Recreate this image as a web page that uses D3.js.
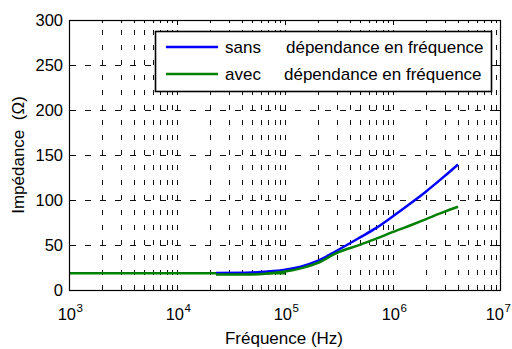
<!DOCTYPE html>
<html>
<head>
<meta charset="utf-8">
<script src="https://cdn.jsdelivr.net/npm/d3@7"></script>
<style>
  html, body { margin: 0; padding: 0; background: #fff; }
  svg { display: block; }
  text { font-family: "Liberation Sans", Arial, sans-serif; fill: #000; }
</style>
</head>
<body>
<svg id="chart" width="512" height="349"></svg>
<script>
// ---- data ----
const freqFlat  = [1e3, 1e4, 2.3e4, 5e4, 1e5];
const valueFlat = [18.7, 18.7, 18.7, 18.7, 18.7];

const freqSans  = [2.3e4, 5e4, 7e4, 1e5, 1.4e5, 2e5, 3e5, 5e5, 7e5, 1e6, 1.5e6, 2e6, 3e6, 4e6];
const valueSans = [19, 19.5, 20.5, 22.5, 26, 32.3, 43.5, 58.7, 69, 82, 97.5, 109, 126.5, 139.5];

const freqAvec  = [2.3e4, 5e4, 7e4, 1e5, 1.4e5, 2e5, 3e5, 5e5, 7e5, 1e6, 1.5e6, 2e6, 3e6, 4e6];
const valueAvec = [17.3, 17.3, 18.5, 20.5, 24, 30, 41, 50.5, 57, 64.5, 72.5, 78.5, 87, 92.5];

const yTicks = [0, 50, 100, 150, 200, 250, 300];
const xExponents = [3, 4, 5, 6, 7];
const legendLabels = ["sans", "avec"];
const legendText = "dépendance en fréquence";
const xTitle = "Fréquence (Hz)";
const yTitle = "Impédance  (Ω)";

// ---- layout ----
const L = 69, R = 501, T = 20, B = 290;
const svg = d3.select("#chart");
const x = d3.scaleLog().domain([1e3, 1e7]).range([L, R]);
const y = d3.scaleLinear().domain([0, 300]).range([B, T]);

// grid: vertical (majors + minors)
const vTicks = [];
for (let k = 3; k < 7; k++) {
  for (let m = 1; m <= 9; m++) {
    const v = m * Math.pow(10, k);
    if (v > 1e3) vTicks.push(v);
  }
}
const grid = svg.append("g");
grid.selectAll("line.v").data(vTicks).enter().append("line")
  .attr("x1", d => Math.round(x(d)) + 0.5).attr("x2", d => Math.round(x(d)) + 0.5)
  .attr("y1", T).attr("y2", B)
  .attr("stroke", "#111").attr("stroke-width", 1)
  .attr("stroke-dasharray", "5,10").attr("stroke-dashoffset", 5);
grid.selectAll("line.h").data(yTicks.filter(d => d > 0 && d < 300)).enter().append("line")
  .attr("x1", L).attr("x2", R)
  .attr("y1", d => Math.round(y(d)) + 0.5).attr("y2", d => Math.round(y(d)) + 0.5)
  .attr("stroke", "#111").attr("stroke-width", 1)
  .attr("stroke-dasharray", "6,9").attr("stroke-dashoffset", -1);

// ticks inside
const tk = svg.append("g").attr("stroke", "#000").attr("stroke-width", 1);
yTicks.forEach(d => {
  const yy = Math.round(y(d)) + 0.5;
  tk.append("line").attr("x1", L).attr("x2", L + 5).attr("y1", yy).attr("y2", yy);
  tk.append("line").attr("x1", R - 5).attr("x2", R).attr("y1", yy).attr("y2", yy);
});
vTicks.forEach(d => {
  const xx = Math.round(x(d)) + 0.5;
  const len = (Math.abs(Math.log10(d) % 1) < 1e-9) ? 5 : 3;
  tk.append("line").attr("x1", xx).attr("x2", xx).attr("y1", B).attr("y2", B - len);
  tk.append("line").attr("x1", xx).attr("x2", xx).attr("y1", T).attr("y2", T + len);
});

// curves
const line = d3.line().x(d => x(d[0])).y(d => y(d[1])).curve(d3.curveMonotoneX);
const zip = (a, b) => a.map((v, i) => [v, b[i]]);
svg.append("path").datum(zip(freqFlat, valueFlat)).attr("d", line)
  .attr("fill", "none").attr("stroke", "#008000").attr("stroke-width", 2.5);
svg.append("path").datum(zip(freqSans, valueSans)).attr("d", line)
  .attr("fill", "none").attr("stroke", "#0000ff").attr("stroke-width", 2.5);
svg.append("path").datum(zip(freqAvec, valueAvec)).attr("d", line)
  .attr("fill", "none").attr("stroke", "#008000").attr("stroke-width", 2.5);

// box
svg.append("rect").attr("x", L + 0.5).attr("y", T + 0.5)
  .attr("width", R - L - 1).attr("height", B - T)
  .attr("fill", "none").attr("stroke", "#000").attr("stroke-width", 1.2);

// y tick labels
svg.append("g").selectAll("text").data(yTicks).enter().append("text")
  .attr("x", 63).attr("y", d => y(d) + 6)
  .attr("text-anchor", "end").attr("font-size", 16.5).text(d => d);

// x tick labels 10^k (last one nudged to stay inside the page)
const xl = svg.append("g");
xExponents.forEach((e, i) => {
  const xx = x(Math.pow(10, e)) + (i === xExponents.length - 1 ? -4 : 0);
  xl.append("text").attr("x", xx + 7).attr("y", 320)
    .attr("text-anchor", "end").attr("font-size", 16.5).text("10");
  xl.append("text").attr("x", xx + 7.5).attr("y", 312)
    .attr("font-size", 11.5).text(e);
});

// axis titles
svg.append("text").attr("x", 284).attr("y", 344).attr("text-anchor", "middle")
  .attr("font-size", 17).text(xTitle);
svg.append("text").attr("transform", "translate(23.5,155) rotate(-90)")
  .attr("text-anchor", "middle").attr("font-size", 17)
  .style("white-space", "pre").text(yTitle);

// legend
const lg = svg.append("g");
lg.append("rect").attr("x", 155.5).attr("y", 31.5).attr("width", 336).attr("height", 60)
  .attr("fill", "#fff").attr("stroke", "#000").attr("stroke-width", 1.6);
const lgColors = ["#0000ff", "#008000"];
const lgY = [47, 74];
legendLabels.forEach((lab, i) => {
  lg.append("line").attr("x1", 166).attr("x2", 218).attr("y1", lgY[i]).attr("y2", lgY[i])
    .attr("stroke", lgColors[i]).attr("stroke-width", 2.5);
  lg.append("text").attr("x", 225).attr("y", lgY[i] + 6).attr("font-size", 17).text(lab);
  lg.append("text").attr("x", i === 0 ? 286 : 284).attr("y", lgY[i] + 6).attr("font-size", 17).text(legendText);
});
</script>
</body>
</html>
